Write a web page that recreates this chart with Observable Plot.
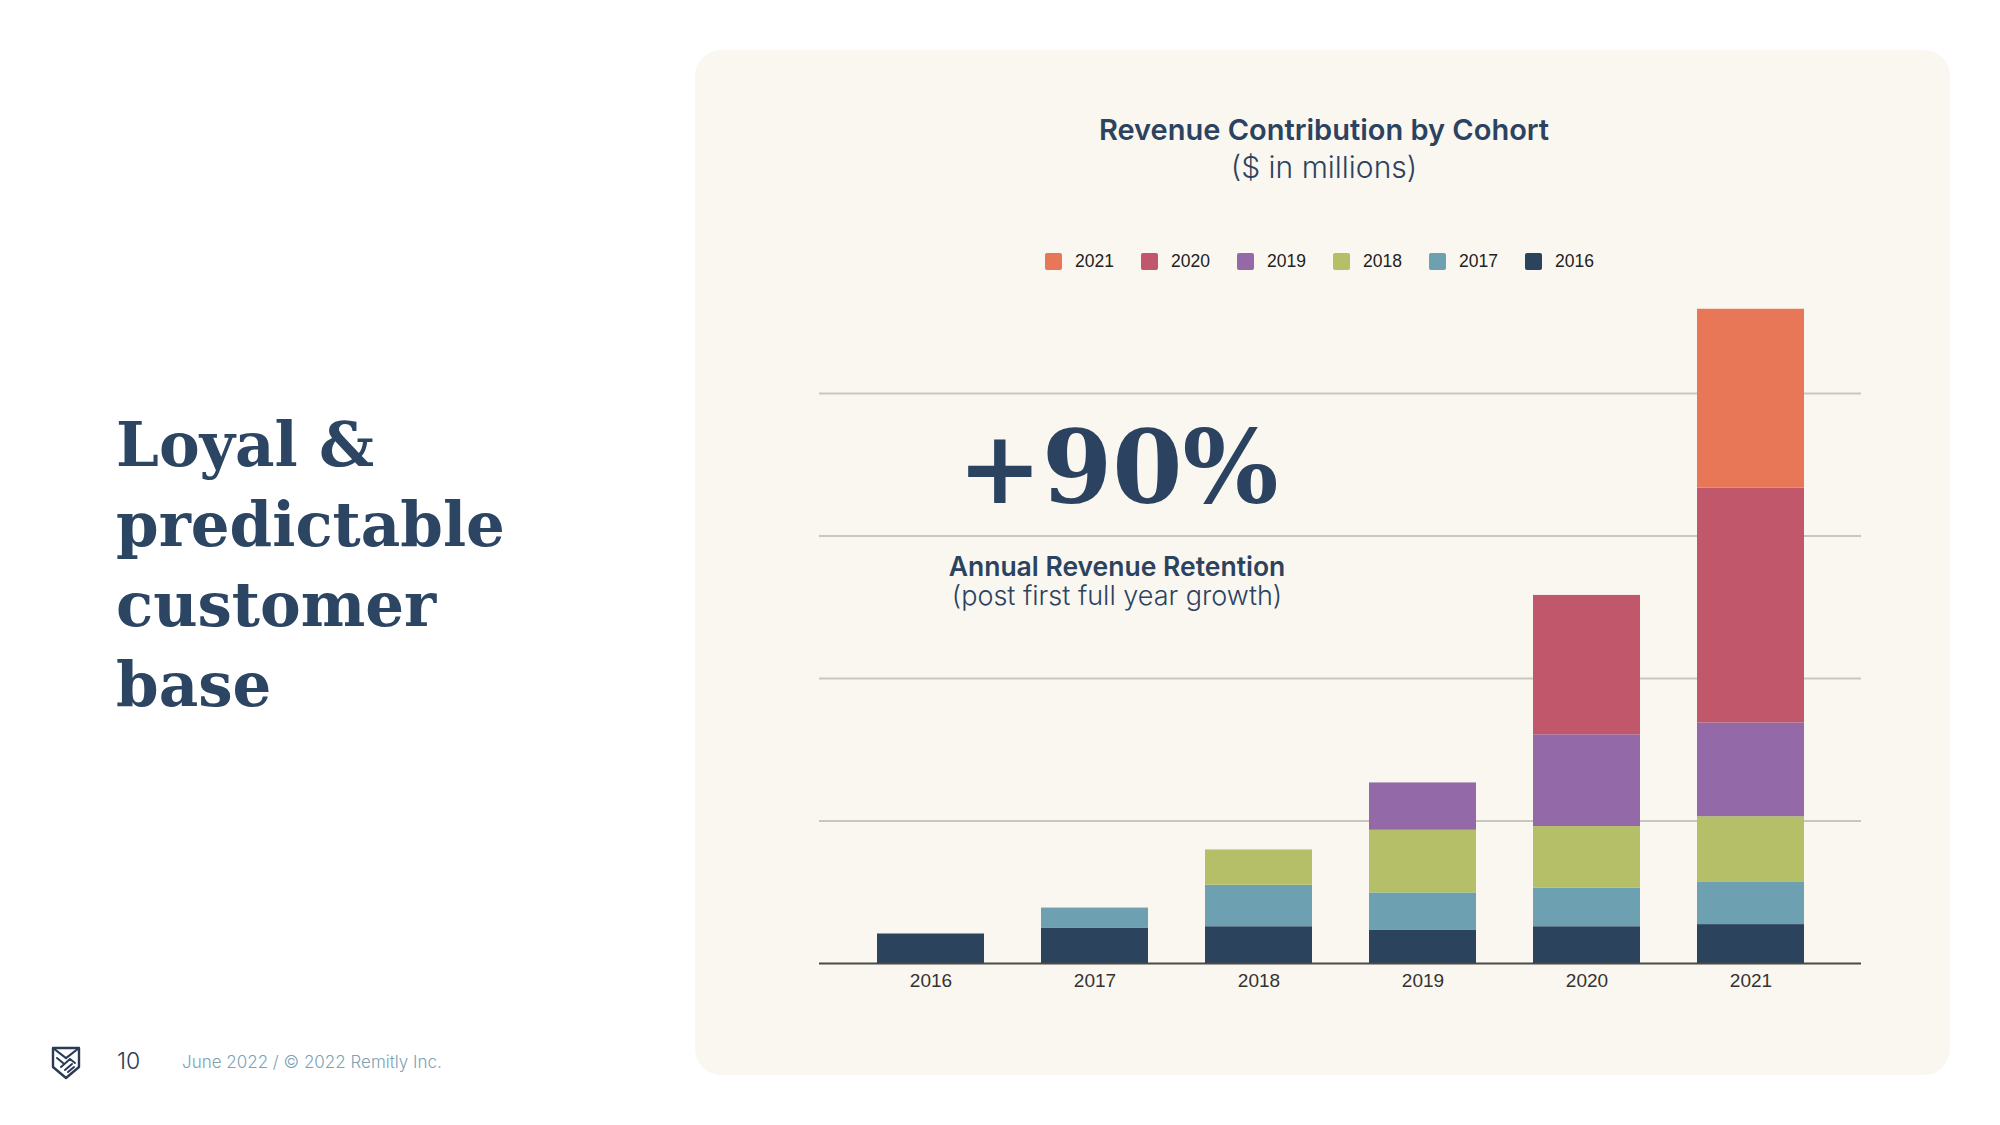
<!DOCTYPE html>
<html>
<head>
<meta charset="utf-8">
<script src="https://cdn.jsdelivr.net/npm/d3@7"></script>
<script src="https://cdn.jsdelivr.net/npm/@observablehq/plot@0.6"></script>
<style>
  html, body { margin: 0; padding: 0; background: #ffffff; }
  body { width: 2000px; height: 1125px; position: relative; overflow: hidden; font-family: Inter, "Noto Sans", sans-serif; }
  .abs { position: absolute; white-space: nowrap; }
  #panel { position: absolute; left: 695px; top: 50px; width: 1255px; height: 1025px; border-radius: 26px; background: #FAF7F0; }
  #heading { left: 116px; top: 405px; font-family: "DejaVu Serif", serif; font-weight: bold; font-size: 61px; line-height: 80px; color: #2B4562; white-space: normal; }
  #title { left: 1324px; top: 116px; transform: translateX(-50%); font-size: 29px; line-height: 28px; font-weight: 600; color: #2B4360; }
  #subtitle { left: 1324px; top: 153px; transform: translateX(-50%); font-size: 30px; line-height: 28px; font-weight: 300; color: #2B4360; }
  #legend { left: 1045px; top: 249px; display: flex; font-family: "Liberation Sans", Arial, sans-serif; font-size: 17.5px; color: #222; }
  .item { width: 96px; display: flex; align-items: center; height: 25px; }
  .sw { width: 17px; height: 17px; border-radius: 2px; margin-right: 13px; }
  #big { left: 1118px; top: 417px; transform: translateX(-50%); font-family: "DejaVu Serif", serif; font-weight: bold; font-size: 101px; line-height: 101px; color: #2B4360; }
  #ann1 { left: 1117px; top: 553px; transform: translateX(-50%); font-size: 26.5px; line-height: 26px; font-weight: 600; color: #2B4360; }
  #ann2 { left: 1117px; top: 583px; transform: translateX(-50%); font-size: 27px; line-height: 26px; font-weight: 300; color: #2B4360; }
  #chart { position: absolute; left: 779px; top: 260px; }
  #pagenum { left: 117px; top: 1050px; font-size: 23px; line-height: 23px; font-weight: 300; color: #2B3A55; }
  #foot { left: 182px; top: 1054px; font-size: 17px; line-height: 16px; font-weight: 300; color: #7DA2B4; }
  #logo { position: absolute; left: 50px; top: 1045px; }
</style>
</head>
<body>
<div id="panel"></div>
<div id="heading" class="abs">Loyal &amp;<br>predictable<br>customer<br>base</div>
<div id="title" class="abs">Revenue Contribution by Cohort</div>
<div id="subtitle" class="abs">($ in millions)</div>
<div id="legend" class="abs"></div>
<div id="chart"></div>
<div id="big" class="abs">+90%</div>
<div id="ann1" class="abs">Annual Revenue Retention</div>
<div id="ann2" class="abs">(post first full year growth)</div>
<svg id="logo" width="32" height="36" viewBox="0 0 32 36">
  <path d="M3 3 H29 V22 L16 33 L3 22 Z" fill="none" stroke="#2B3A55" stroke-width="2.4" stroke-linejoin="round"/>
  <path d="M3 3 L16 13 L29 3" fill="none" stroke="#2B3A55" stroke-width="2.2"/>
  <path d="M7 13 L13 18 M11 22 L20 14 L25 18 M15 25 L22 19 M18 27 L24 22" fill="none" stroke="#2B3A55" stroke-width="2" stroke-linecap="round"/>
</svg>
<div id="pagenum" class="abs">10</div>
<div id="foot" class="abs">June 2022 / © 2022 Remitly Inc.</div>
<script>
// Fiscal years (x axis)
const years = ["2016", "2017", "2018", "2019", "2020", "2021"];
// Customer cohorts (stack order, bottom to top)
const cohorts = ["2016", "2017", "2018", "2019", "2020", "2021"];
const cohortColors = ["#2C435D", "#6DA0B0", "#B4BF67", "#9369A7", "#C1576B", "#E77756"];
// Revenue by cohort per year ($ in millions)
const cohort2016 = [20.7, 24.9, 25.8, 23.5, 25.8, 27.3];
const cohort2017 = [null, 14.0, 29.1, 26.0, 27.0, 30.0];
const cohort2018 = [null, null, 24.8, 44.0, 43.3, 45.7];
const cohort2019 = [null, null, null, 33.2, 64.4, 65.8];
const cohort2020 = [null, null, null, null, 97.8, 164.8];
const cohort2021 = [null, null, null, null, null, 125.5];
const gridValues = [100, 200, 300, 400];

const series = [cohort2016, cohort2017, cohort2018, cohort2019, cohort2020, cohort2021];
const data = [];
series.forEach((vals, i) => {
  vals.forEach((v, j) => {
    if (v != null) data.push({year: years[j], cohort: cohorts[i], value: v});
  });
});

// Legend (newest cohort first)
const legend = document.getElementById("legend");
cohorts.slice().reverse().forEach(c => {
  const idx = cohorts.indexOf(c);
  const item = document.createElement("div");
  item.className = "item";
  item.innerHTML = `<div class="sw" style="background:${cohortColors[idx]}"></div><span>${c}</span>`;
  legend.appendChild(item);
});

const chart = Plot.plot({
  width: 1122,
  height: 743,
  marginLeft: 40,
  marginRight: 40,
  marginTop: 19,
  marginBottom: 40,
  x: {domain: years, padding: 0.35, label: null, tickSize: 0, tickPadding: 10},
  y: {domain: [0, 480], axis: null},
  color: {domain: cohorts, range: cohortColors},
  style: {background: "transparent", fontFamily: "'Liberation Sans', Arial, sans-serif", fontSize: "19px", color: "#333"},
  marks: [
    Plot.ruleY(gridValues, {stroke: "#C9C6C0", strokeWidth: 2}),
    Plot.barY(data, {x: "year", y: "value", fill: "cohort"}),
    Plot.ruleY([0], {stroke: "#4A4A4A", strokeWidth: 2})
  ]
});
document.getElementById("chart").appendChild(chart);
</script>
</body>
</html>
